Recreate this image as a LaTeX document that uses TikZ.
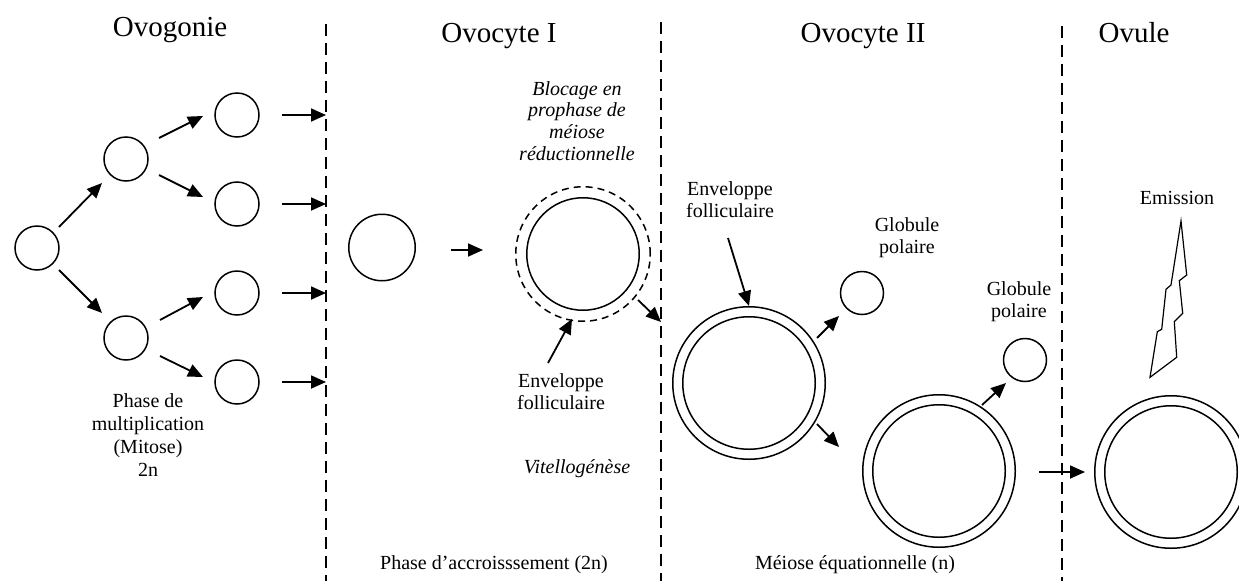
\documentclass[tikz,border=0pt]{standalone}
\usepackage{fontspec}
\setmainfont{Liberation Serif}
\usetikzlibrary{arrows.meta,calc}
\begin{document}
\begin{tikzpicture}[x=1pt,y=-1pt,
  cell/.style={circle,draw,line width=1.5pt,inner sep=0pt,minimum size=#1},
  arr/.style={line width=1.8pt,-{Triangle[length=15pt,width=13pt]}},
  sep/.style={line width=1.3pt,dash pattern=on 12pt off 7pt},
  ttl/.style={font=\fontsize{29}{34}\selectfont,inner sep=0pt,anchor=base},
  lbl/.style={font=\fontsize{20}{22}\selectfont,inner sep=0pt,align=center},
  ilbl/.style={font=\fontsize{20}{21.7}\selectfont\itshape,inner sep=0pt,align=center}]
\useasboundingbox (0,0) rectangle (1239,581);

% separators
\coordinate (L1t) at (326,24);  \coordinate (L1b) at (326,581);
\coordinate (L2t) at (661,22);  \coordinate (L2b) at (661,581);
\coordinate (L3t) at (1062,26); \coordinate (L3b) at (1062,581);
\draw[sep] (L1t) -- (L1b);
\draw[sep] (L2t) -- (L2b);
\draw[sep] (L3t) -- (L3b);

% titles
\node[ttl] (t1) at (170,36) {Ovogonie};
\node[ttl] (t2) at (499,42) {Ovocyte I};
\node[ttl] (t3) at (863,42) {Ovocyte II};
\node[ttl] (t4) at (1134,42) {Ovule};

% ovogonies
\node[cell=44] (A)  at (37,248) {};
\node[cell=44] (B1) at (126,159) {};
\node[cell=44] (B2) at (126,338) {};
\node[cell=44] (C1) at (237,115) {};
\node[cell=44] (C2) at (237,204) {};
\node[cell=44] (C3) at (237,293) {};
\node[cell=44] (C4) at (237,382) {};

\draw[arr] ($(A)+(22,-21)$) -- ($(B1)+(-24,24)$);
\draw[arr] ($(A)+(22,22)$) -- ($(B2)+(-24,-25)$);
\draw[arr] ($(B1)+(33,-21)$) -- ($(C1)+(-34,1)$);
\draw[arr] ($(B1)+(33,16)$) -- ($(C2)+(-34,-7)$);
\draw[arr] ($(B2)+(34,-18)$) -- ($(C3)+(-34,4)$);
\draw[arr] ($(B2)+(34,18)$) -- ($(C4)+(-34,-5)$);
\foreach \c in {C1,C2,C3,C4}{
  \draw[arr] ($(\c)+(45,0)$) -- (\c -| L1t);
}
\node[lbl,font=\fontsize{20}{23}\selectfont] (P1) at (148,435) {Phase de\\multiplication\\(Mitose)\\2n};

% ovocyte I
\node[cell=66.5] (D) at (382,247.5) {};
\node[cell=112.5] (E) at (583,254) {};
\node[cell=134.5,dash pattern=on 7pt off 5pt] (Eo) at (583,254) {};
\draw[arr] ($(D)+(69,2.5)$) -- ($(E)+(-100,-4)$);
\draw[arr] ($(E)+(55,46)$) -- ($(E)+(78,68)$);
\node[ilbl] (blk) at (577,121) {Blocage en\\prophase de\\méiose\\réductionnelle};
\node[lbl] (env1) at (561,392) {Enveloppe\\folliculaire};
\draw[arr] ($(env1)+(-13,-29)$) -- ($(E)+(-11,65)$);
\node[ilbl] (vit) at (577,469) {Vitellogénèse};
\node[lbl] (acc) at (494,565) {Phase d’accroisssement (2n)};

% ovocyte II
\node[cell=152.5] (Fo) at (749,383) {};
\node[cell=132.5] (F)  at (749,383) {};
\node[cell=43] (G1) at (862,293) {};
\node[cell=152.5] (Ho) at (939,471) {};
\node[cell=132.5] (H)  at (939,471) {};
\node[cell=43] (G2) at (1025,360) {};
\node[lbl] (env2) at (730,200) {Enveloppe\\folliculaire};
\node[lbl] (gp1) at (907,238) {Globule\\polaire};
\node[lbl] (gp2) at (1019,302) {Globule\\polaire};
\draw[arr] ($(env2)+(-2,38)$) -- (Fo.north);
\draw[arr] ($(F)+(68,-45)$) -- ($(G1)+(-23,23)$);
\draw[arr] ($(F)+(68,41)$) -- ($(F)+(90,64)$);
\draw[arr] ($(H)+(43,-66)$) -- ($(G2)+(-19,23)$);
\node[lbl] (meq) at (855,565) {Méiose équationnelle (n)};

% ovule
\node[cell=152.5] (Io) at (1171,472) {};
\node[cell=132.5] (I)  at (1171,472) {};
\draw[arr] ($(H)+(100,1)$) -- ($(I)+(-86,0)$);
\node[lbl] (emi) at (1177,198) {Emission};
\draw[line width=1.2pt,line join=miter] (1181,221) -- (1186.7,275) -- (1179.3,280.7) -- (1182.7,313.3) -- (1174.3,321.7) -- (1176.7,357.3) -- (1150,377.3) -- (1157.3,331.7) -- (1161.7,329.3) -- (1166,289.3) -- (1171,285) -- cycle;
\end{tikzpicture}
\end{document}
